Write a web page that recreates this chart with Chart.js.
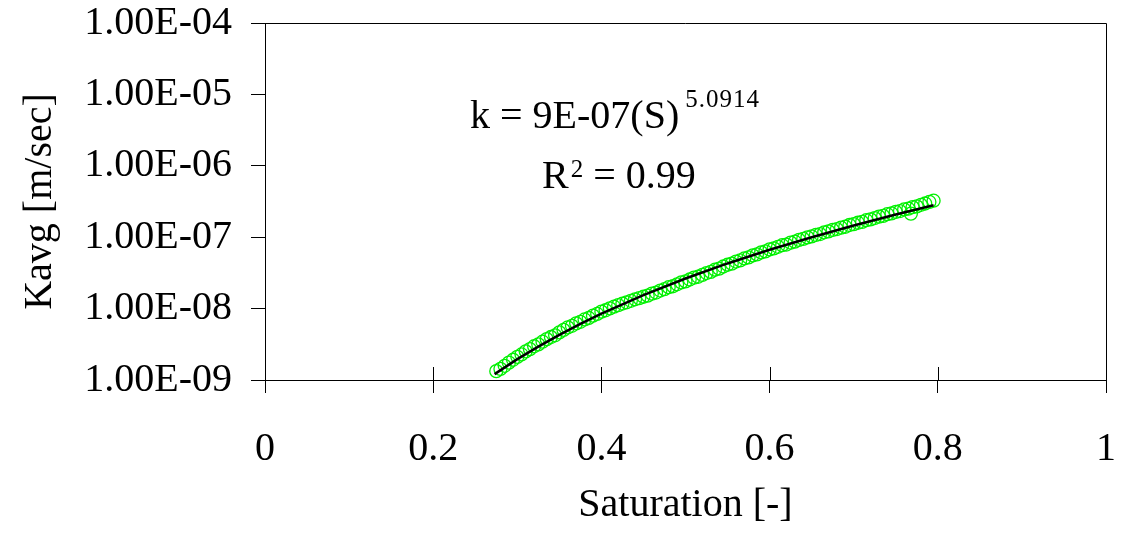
<!DOCTYPE html>
<html>
<head>
<meta charset="utf-8">
<script src="https://cdn.jsdelivr.net/npm/chart.js@4.4.0/dist/chart.umd.min.js"></script>
<style>
  body { margin: 0; background: #fff; }
  #kChart { display: block; }
</style>
</head>
<body>
<canvas id="kChart" width="1127" height="533"></canvas>
<script>
// measured points: saturation S [-] and Kavg [m/sec]
var satValues = [0.275, 0.28, 0.285, 0.29, 0.295, 0.30, 0.305, 0.31, 0.315, 0.32,
    0.325, 0.33, 0.335, 0.34, 0.345, 0.35, 0.355, 0.36, 0.365, 0.37,
    0.375, 0.38, 0.385, 0.39, 0.395, 0.40, 0.405, 0.41, 0.415, 0.42,
    0.425, 0.43, 0.435, 0.44, 0.445, 0.45, 0.455, 0.46, 0.465, 0.47,
    0.475, 0.48, 0.485, 0.49, 0.495, 0.50, 0.505, 0.51, 0.515, 0.52,
    0.525, 0.53, 0.535, 0.54, 0.545, 0.55, 0.555, 0.56, 0.565, 0.57,
    0.575, 0.58, 0.585, 0.59, 0.595, 0.60, 0.605, 0.61, 0.615, 0.62,
    0.625, 0.63, 0.635, 0.64, 0.645, 0.65, 0.655, 0.66, 0.665, 0.67,
    0.675, 0.68, 0.685, 0.69, 0.695, 0.70, 0.705, 0.71, 0.715, 0.72,
    0.725, 0.73, 0.735, 0.74, 0.745, 0.75, 0.755, 0.76, 0.765, 0.768,
    0.77, 0.775, 0.78, 0.785, 0.79, 0.795];
var kavgValues = [1.33e-9, 1.43e-9, 1.58e-9, 1.75e-9, 1.92e-9, 2.11e-9, 2.28e-9, 2.52e-9, 2.71e-9, 2.97e-9,
    3.15e-9, 3.44e-9, 3.74e-9, 4.00e-9, 4.23e-9, 4.64e-9, 5.03e-9, 5.45e-9, 5.74e-9, 6.21e-9,
    6.53e-9, 7.05e-9, 7.39e-9, 7.97e-9, 8.42e-9, 9.07e-9, 9.48e-9, 1.009e-8, 1.063e-8, 1.119e-8,
    1.177e-8, 1.225e-8, 1.286e-8, 1.349e-8, 1.401e-8, 1.466e-8, 1.519e-8, 1.622e-8, 1.678e-8, 1.791e-8,
    1.869e-8, 1.994e-8, 2.057e-8, 2.191e-8, 2.332e-8, 2.401e-8, 2.555e-8, 2.716e-8, 2.792e-8, 2.965e-8,
    3.147e-8, 3.267e-8, 3.502e-8, 3.632e-8, 3.888e-8, 4.116e-8, 4.266e-8, 4.559e-8, 4.721e-8, 5.040e-8,
    5.216e-8, 5.564e-8, 5.754e-8, 6.130e-8, 6.336e-8, 6.746e-8, 6.966e-8, 7.337e-8, 7.725e-8, 7.893e-8,
    8.385e-8, 8.649e-8, 9.180e-8, 9.464e-8, 9.942e-8, 1.024e-7, 1.075e-7, 1.107e-7, 1.172e-7, 1.206e-7,
    1.265e-7, 1.300e-7, 1.362e-7, 1.401e-7, 1.482e-7, 1.522e-7, 1.594e-7, 1.637e-7, 1.729e-7, 1.775e-7,
    1.855e-7, 1.940e-7, 1.990e-7, 2.098e-7, 2.152e-7, 2.267e-7, 2.324e-7, 2.448e-7, 2.507e-7, 2.14e-7,
    2.640e-7, 2.704e-7, 2.845e-7, 2.965e-7, 3.117e-7, 3.246e-7];

// power trend line
var fitSat = [0.273, 0.30, 0.325, 0.35, 0.375, 0.40, 0.45, 0.50, 0.55, 0.60, 0.65, 0.70, 0.75, 0.795];
var fitKavg = [1.21e-9, 1.96e-9, 2.94e-9, 4.29e-9, 6.10e-9, 8.48e-9, 1.54e-8, 2.64e-8, 4.29e-8,
    6.68e-8, 1.00e-7, 1.46e-7, 2.08e-7, 2.80e-7];

var xTickValues = [0, 0.2, 0.4, 0.6, 0.8, 1];
var xTickLabels = ['0', '0.2', '0.4', '0.6', '0.8', '1'];
var yTickValues = [1e-9, 1e-8, 1e-7, 1e-6, 1e-5, 1e-4];
var yTickLabels = ['1.00E-09', '1.00E-08', '1.00E-07', '1.00E-06', '1.00E-05', '1.00E-04'];

var serif = '"Liberation Serif", "Times New Roman", serif';

function toPoints(xs, ys) {
    var pts = [];
    for (var i = 0; i < xs.length; i++) {
        pts.push({x: xs[i], y: ys[i]});
    }
    return pts;
}

function labelFor(values, labels, v) {
    for (var i = 0; i < values.length; i++) {
        if (Math.abs(values[i] - v) <= Math.abs(values[i]) * 1e-6 + 1e-12) return labels[i];
    }
    return '';
}

// frame, upper half of x ticks, trend equation text
var extras = {
    id: 'extras',
    afterDraw: function(chart) {
        var ctx = chart.ctx;
        var a = chart.chartArea;
        var xs = chart.scales.x;
        ctx.save();
        ctx.strokeStyle = '#000';
        ctx.lineWidth = 1;
        ctx.beginPath();
        ctx.moveTo(a.left, a.top + 0.5);
        ctx.lineTo(a.right + 0.5, a.top + 0.5);
        ctx.lineTo(a.right + 0.5, a.bottom);
        ctx.stroke();
        ctx.beginPath();
        xTickValues.forEach(function(v) {
            var px = Math.round(xs.getPixelForValue(v)) + 0.5;
            ctx.moveTo(px, a.bottom);
            ctx.lineTo(px, a.bottom - 13);
        });
        ctx.stroke();

        ctx.fillStyle = '#000';
        ctx.textBaseline = 'alphabetic';
        ctx.textAlign = 'left';
        ctx.font = '40px ' + serif;
        var line1 = 'k = 9E-07(S)';
        ctx.fillText(line1, 470, 128);
        var w1 = ctx.measureText(line1).width;
        ctx.font = '25px ' + serif;
        if ('letterSpacing' in ctx) ctx.letterSpacing = '1px';
        ctx.fillText('5.0914', 470 + w1 + 6, 107);
        if ('letterSpacing' in ctx) ctx.letterSpacing = '0px';

        ctx.font = '40px ' + serif;
        ctx.fillText('R', 542, 188);
        var wr = ctx.measureText('R').width;
        ctx.font = '25px ' + serif;
        ctx.fillText('2', 542 + wr + 2, 177);
        var w2 = ctx.measureText('2').width;
        ctx.font = '40px ' + serif;
        ctx.fillText(' = 0.99', 542 + wr + 2 + w2, 188);
        ctx.restore();
    }
};

var ctx = document.getElementById('kChart').getContext('2d');
var myChart = new Chart(ctx, {
    type: 'scatter',
    data: {
        datasets: [
            {
                label: 'Power fit',
                data: toPoints(fitSat, fitKavg),
                showLine: true,
                borderColor: '#000',
                borderWidth: 2.5,
                pointRadius: 0,
                fill: false,
                tension: 0
            },
            {
                label: 'Kavg',
                data: toPoints(satValues, kavgValues),
                pointStyle: 'circle',
                pointRadius: 6.5,
                pointBorderWidth: 1.3,
                pointBorderColor: '#00f000',
                pointBackgroundColor: 'rgba(0,0,0,0)',
                showLine: false
            }
        ]
    },
    options: {
        responsive: false,
        animation: false,
        layout: { padding: { top: 23, right: 21, left: 0, bottom: 0 } },
        plugins: {
            legend: { display: false },
            tooltip: { enabled: false },
            title: { display: false }
        },
        scales: {
            x: {
                type: 'linear',
                min: 0,
                max: 1,
                afterBuildTicks: function(scale) {
                    scale.ticks = xTickValues.map(function(v) { return {value: v}; });
                },
                afterFit: function(scale) {
                    scale.height = 153;
                    scale.paddingLeft = 0;
                    scale.paddingRight = 0;
                },
                ticks: {
                    color: '#000',
                    font: { family: serif, size: 40, lineHeight: 1 },
                    padding: 36,
                    maxRotation: 0,
                    autoSkip: false,
                    callback: function(v) { return labelFor(xTickValues, xTickLabels, v); }
                },
                grid: { drawOnChartArea: false, drawTicks: true, tickLength: 13, color: '#000' },
                border: { color: '#000', width: 1 },
                title: {
                    display: true,
                    text: 'Saturation [-]',
                    color: '#000',
                    font: { family: serif, size: 40, lineHeight: 1 },
                    padding: { top: 0, bottom: 8 }
                }
            },
            y: {
                type: 'logarithmic',
                min: 1e-9,
                max: 1e-4,
                afterBuildTicks: function(scale) {
                    scale.ticks = yTickValues.map(function(v) { return {value: v, major: true}; });
                },
                afterFit: function(scale) {
                    scale.width = 265;
                    scale.paddingTop = 0;
                    scale.paddingBottom = 0;
                },
                ticks: {
                    color: '#000',
                    font: { family: serif, size: 40, lineHeight: 1 },
                    padding: 19,
                    autoSkip: false,
                    callback: function(v) { return labelFor(yTickValues, yTickLabels, v); }
                },
                grid: { drawOnChartArea: false, drawTicks: true, tickLength: 14, color: '#000' },
                border: { color: '#000', width: 1 },
                title: {
                    display: true,
                    text: 'Kavg [m/sec]',
                    color: '#000',
                    font: { family: serif, size: 40, lineHeight: 1 },
                    padding: { top: 20, bottom: 0 }
                }
            }
        }
    },
    plugins: [extras]
});
</script>
</body>
</html>
